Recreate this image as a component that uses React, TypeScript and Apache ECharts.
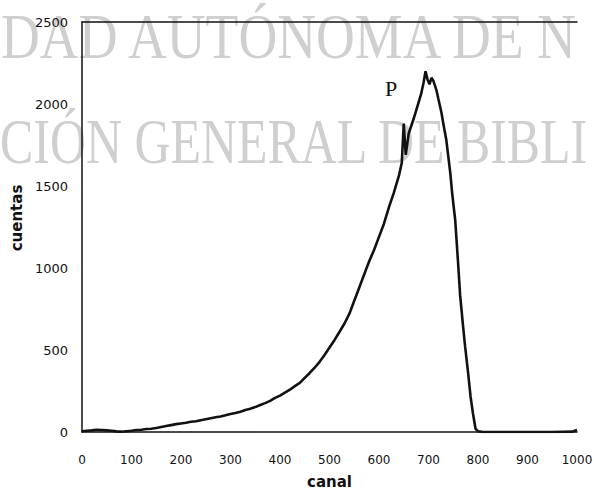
import React, { useEffect, useRef } from "react";
import * as echarts from "echarts";

// canal (channel) positions and counts
const channels = [
  0, 10, 20, 30, 40, 50, 60, 70, 80, 90,
  100, 110, 120, 130, 140, 150, 160, 170, 180, 190,
  200, 210, 220, 230, 240, 250, 260, 270, 280, 290,
  300, 310, 320, 330, 340, 350, 360, 370, 380, 390,
  400, 410, 420, 430, 440, 450, 460, 470, 480, 490,
  500, 510, 520, 530, 540, 550, 560, 570, 580, 590,
  600, 610, 620, 630, 640, 646, 650, 654, 660, 670,
  680, 685, 690, 694, 698, 702, 706, 710, 716, 720,
  726, 730, 736, 740, 744, 748, 754, 760, 764, 770,
  774, 780, 785, 790, 795, 800, 810, 850, 900, 950,
  990, 1000,
];
const counts = [
  5, 8, 10, 14, 12, 10, 8, 4, 2, 5,
  8, 12, 14, 18, 20, 24, 30, 36, 42, 48,
  52, 56, 62, 66, 72, 78, 84, 90, 95, 102,
  110, 116, 124, 134, 142, 152, 165, 176, 190, 208,
  222, 240, 258, 280, 300, 330, 360, 392, 428, 470,
  515, 560, 610, 660, 720, 800, 880, 960, 1040, 1110,
  1190, 1270, 1370, 1460, 1560, 1640, 1880, 1690, 1820, 1910,
  2010, 2060, 2130, 2200, 2150, 2120, 2160, 2140, 2085, 2030,
  1950, 1880, 1780, 1680, 1580, 1450, 1290, 1020, 830, 640,
  520, 360, 215, 110, 20, 5, 0, 0, 0, 0,
  2, 12,
];

const xLabels = ["0", "100", "200", "300", "400", "500", "600", "700", "800", "900", "1000"];
const yLabels = ["0", "500", "1000", "1500", "2000", "2500"];
const watermarkLines = ["DAD AUTÓNOMA DE N", "CIÓN GENERAL DE BIBLI"];
const peakLabel = "P";

export default function App() {
  const ref = useRef<HTMLDivElement>(null);
  useEffect(() => {
    if (!ref.current) return;
    const chart = echarts.init(ref.current, undefined, { renderer: "svg" });
    const data = channels.map((c, i) => [c, counts[i]]);
    chart.setOption({
      animation: false,
      backgroundColor: "#ffffff",
      grid: { left: 82, top: 22, width: 495, height: 410, containLabel: false, outerBoundsMode: "none" },
      xAxis: [
        {
          type: "value",
          min: 0,
          max: 1000,
          interval: 100,
          name: "canal",
          nameLocation: "middle",
          nameGap: 42,
          nameTextStyle: { fontFamily: "DejaVu Sans", fontWeight: "bold", fontSize: 15, color: "#111" },
          axisLine: { show: true, lineStyle: { color: "#111", width: 1.5 } },
          axisTick: { show: false },
          splitLine: { show: false },
          axisLabel: {
            fontFamily: "DejaVu Sans",
            fontSize: 12,
            color: "#111",
            margin: 22,
            formatter: (v: number) => xLabels[Math.round(v / 100)] ?? "",
          },
        },
        {
          type: "value",
          position: "top",
          min: 0,
          max: 1000,
          axisLine: { show: true, onZero: false, lineStyle: { color: "#111", width: 1.5 } },
          axisTick: { show: false },
          axisLabel: { show: false },
          splitLine: { show: false },
        },
      ],
      yAxis: {
        type: "value",
        min: 0,
        max: 2500,
        interval: 500,
        name: "cuentas",
        nameLocation: "middle",
        nameGap: 55,
        nameTextStyle: { fontFamily: "DejaVu Sans", fontWeight: "bold", fontSize: 15, color: "#111", padding: [0, 0, 0, 18] },
        axisLine: { show: true, lineStyle: { color: "#111", width: 1.5 } },
        axisTick: { show: false },
        splitLine: { show: false },
        axisLabel: {
          fontFamily: "DejaVu Sans",
          fontSize: 13,
          color: "#111",
          margin: 14,
          formatter: (v: number) => yLabels[Math.round(v / 500)] ?? "",
        },
      },
      graphic: [
        {
          type: "text",
          x: 1,
          y: 4,
          z: -10,
          scaleX: 0.84,
          style: { text: watermarkLines[0], font: '64px "Liberation Serif"', fill: "#cfcfcf", verticalAlign: "top" },
        },
        {
          type: "text",
          x: 0,
          y: 109,
          z: -10,
          scaleX: 0.78,
          style: { text: watermarkLines[1], font: '64px "Liberation Serif"', fill: "#cfcfcf", verticalAlign: "top" },
        },
        {
          type: "text",
          x: 385,
          y: 77,
          z: 10,
          style: { text: peakLabel, font: '22px "Liberation Serif"', fill: "#111" },
        },
      ],
      series: [
        {
          type: "line",
          xAxisIndex: 0,
          data,
          showSymbol: false,
          symbol: "none",
          z: 5,
          lineStyle: { color: "#111", width: 2.6 },
        },
      ],
    });
    return () => chart.dispose();
  }, []);
  return <div ref={ref} style={{ position: "fixed", left: 0, top: 0, width: 594, height: 494 }} />;
}
